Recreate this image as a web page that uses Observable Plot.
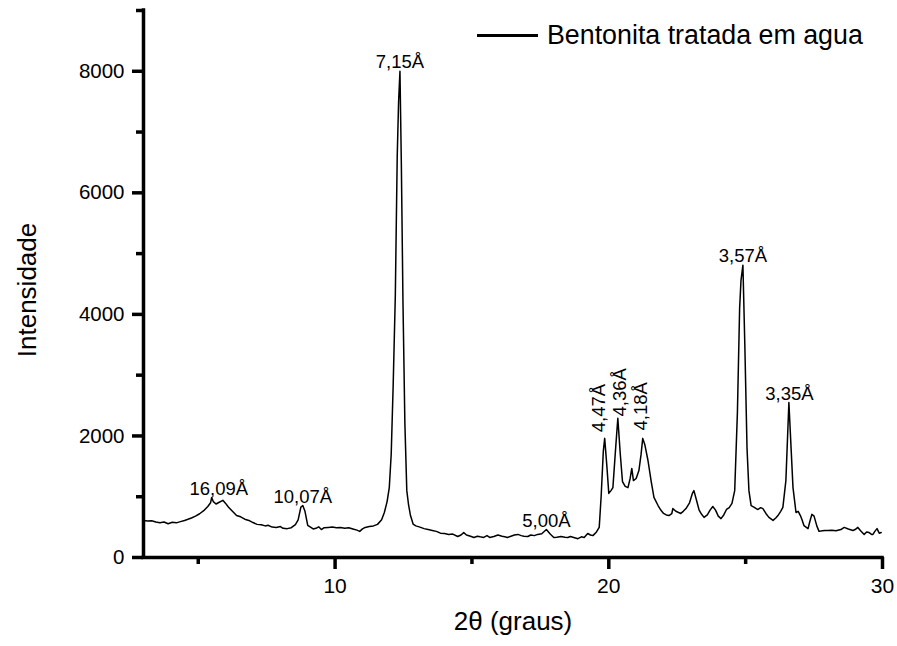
<!DOCTYPE html>
<html><head><meta charset="utf-8">
<script src="https://cdn.jsdelivr.net/npm/d3@7"></script>
<script src="https://cdn.jsdelivr.net/npm/@observablehq/plot@0.6"></script>
<style>
body{margin:0;background:#fff;}
#wrap{position:relative;width:897px;height:646px;font-family:"Liberation Sans",Arial,sans-serif;}
#legend{position:absolute;left:477px;top:20px;display:flex;align-items:center;font-size:26.8px;color:#000;white-space:nowrap;line-height:30px;}
#legend .sw{display:inline-block;width:61px;height:0;border-top:3px solid #000;margin-right:9px;}
</style></head>
<body><div id="wrap"><div id="legend"><span class="sw"></span><span>Bentonita tratada em agua</span></div></div>
<script>
const theta = [3.00,3.15,3.3,3.45,3.6,3.75,3.9,4.05,4.2,4.35,4.5,4.6,4.75,4.9,5.05,5.2,5.35,5.45,5.49,5.55,5.65,5.75,5.9,6.0,6.1,6.25,6.4,6.55,6.7,6.85,7.0,7.15,7.3,7.45,7.55,7.7,7.85,8.0,8.1,8.25,8.4,8.55,8.65,8.75,8.82,8.9,9.0,9.1,9.2,9.3,9.4,9.5,9.6,9.75,9.9,10.05,10.2,10.35,10.5,10.65,10.8,10.9,11.0,11.1,11.25,11.4,11.55,11.7,11.8,11.9,11.98,12.05,12.12,12.2,12.27,12.32,12.37,12.42,12.48,12.55,12.62,12.68,12.75,12.85,12.95,13.1,13.25,13.4,13.55,13.7,13.85,14.0,14.15,14.3,14.48,14.6,14.7,14.8,14.95,15.07,15.2,15.3,15.43,15.55,15.65,15.8,15.95,16.1,16.2,16.3,16.45,16.55,16.68,16.8,16.9,17.04,17.15,17.28,17.4,17.55,17.72,17.85,17.99,18.1,18.25,18.4,18.5,18.6,18.75,18.87,19.0,19.1,19.23,19.33,19.42,19.55,19.65,19.72,19.8,19.85,19.93,20.0,20.08,20.15,20.25,20.33,20.42,20.5,20.6,20.7,20.78,20.84,20.9,21.0,21.1,21.18,21.24,21.32,21.43,21.55,21.65,21.8,21.9,22.0,22.1,22.2,22.3,22.34,22.45,22.55,22.63,22.72,22.82,22.95,23.05,23.11,23.2,23.3,23.37,23.48,23.6,23.7,23.8,23.9,24.0,24.1,24.2,24.3,24.4,24.5,24.6,24.7,24.78,24.83,24.9,24.97,25.05,25.12,25.2,25.3,25.4,25.45,25.55,25.63,25.74,25.85,26.0,26.1,26.18,26.28,26.36,26.47,26.58,26.66,26.73,26.84,26.92,27.0,27.06,27.13,27.28,27.35,27.42,27.5,27.6,27.68,27.8,27.9,28.0,28.15,28.3,28.48,28.6,28.75,28.92,29.0,29.1,29.2,29.33,29.42,29.51,29.6,29.65,29.72,29.8,29.88,29.95];
const intensity = [610,600,605,585,570,585,555,580,570,590,610,625,650,680,720,770,840,900,985,920,880,905,940,890,830,760,690,670,630,610,575,545,540,520,530,500,495,510,480,475,490,540,620,830,855,760,530,500,470,480,505,460,490,495,500,490,495,480,490,470,450,430,470,495,510,520,545,620,740,920,1150,1700,2800,4300,6600,7500,8000,6500,4200,2200,1100,880,700,550,520,500,475,460,445,430,400,395,380,385,345,370,410,370,350,330,350,340,330,360,330,345,370,350,340,330,355,370,380,360,350,345,370,360,380,390,460,390,330,335,345,335,330,345,325,310,340,330,395,370,360,420,495,1000,1750,1960,1500,1055,1100,1150,1800,2290,1700,1250,1170,1150,1300,1465,1265,1300,1430,1700,1960,1850,1600,1250,990,855,780,725,700,690,720,805,760,740,725,760,805,900,1050,1100,950,780,725,660,700,780,840,780,680,640,700,790,820,890,1100,2400,4100,4560,4810,3500,1800,1100,855,830,800,790,820,805,725,660,610,650,690,760,825,1265,2550,1800,1150,740,760,690,620,525,475,600,710,680,520,430,440,445,445,450,440,460,495,470,445,460,495,440,380,420,410,380,380,430,475,400,410];

// horizontal peak labels (placed at the peak tops)
const peakTheta = [5.75, 8.82, 12.37, 17.72, 24.9, 26.6];
const peakIntensity = [985, 855, 8000, 460, 4810, 2550];
const peakLabel = ["16,09Å", "10,07Å", "7,15Å", "5,00Å", "3,57Å", "3,35Å"];

// vertical peak labels (start point of each rotated label)
const vLabelTheta = [19.66, 20.42, 21.18];
const vLabelIntensity = [2060, 2320, 2090];
const vPeakLabel = ["4,47Å", "4,36Å", "4,18Å"];

const xMajorTicks = [10, 20, 30];
const xMinorTicks = [5, 15, 25];
const yMajorTicks = [0, 2000, 4000, 6000, 8000];
const yMinorTicks = [1000, 3000, 5000, 7000, 9000];

const xTitle = "2θ (graus)";
const yTitle = "Intensidade";

const series = theta.map((t, i) => ({theta: t, intensity: intensity[i]}));
const peaks = peakTheta.map((t, i) => ({theta: t, intensity: peakIntensity[i], label: peakLabel[i]}));
const vPeaks = vLabelTheta.map((t, i) => ({theta: t, intensity: vLabelIntensity[i], label: vPeakLabel[i]}));

const font = '"Liberation Sans", Arial, sans-serif';
const AW = 3.5;

const chart = Plot.plot({
  width: 897,
  height: 646,
  marginLeft: 143,
  marginRight: 15,
  marginTop: 10,
  marginBottom: 89,
  style: {fontFamily: font, background: "white", color: "black", overflow: "visible"},
  x: {domain: [3, 30]},
  y: {domain: [0, 9000]},
  marks: [
    Plot.axisX(xMajorTicks, {tickSize: 12, tickPadding: 9, strokeWidth: AW, fontSize: 21, tickFormat: d3.format("d"), label: null}),
    Plot.axisX(xMinorTicks, {tickSize: 7, strokeWidth: AW, tickFormat: () => "", label: null}),
    Plot.axisY(yMajorTicks, {tickSize: 11, tickPadding: 8, strokeWidth: AW, fontSize: 20.5, tickFormat: d3.format("d"), label: null}),
    Plot.axisY(yMinorTicks, {tickSize: 7, strokeWidth: AW, tickFormat: () => "", label: null}),
    Plot.ruleY([0], {strokeWidth: AW, strokeLinecap: "square"}),
    Plot.ruleX([3], {strokeWidth: AW, strokeLinecap: "square"}),
    Plot.line(series, {x: "theta", y: "intensity", stroke: "black", strokeWidth: 1.5, strokeLinejoin: "round"}),
    Plot.text(peaks, {x: "theta", y: "intensity", text: "label", lineAnchor: "bottom", dy: -3, fontSize: 18.5, fill: "black"}),
    Plot.text(vPeaks, {x: "theta", y: "intensity", text: "label", rotate: -90, textAnchor: "start", lineAnchor: "middle", fontSize: 18.5, fill: "black"}),
    Plot.text([xTitle], {text: d => d, frameAnchor: "bottom", textAnchor: "middle", lineAnchor: "bottom", dy: 72, fontSize: 26, fill: "black"}),
    Plot.text([yTitle], {text: d => d, frameAnchor: "left", textAnchor: "middle", lineAnchor: "middle", rotate: -90, dx: -116, dy: 6, fontSize: 26, fill: "black"})
  ]
});
document.getElementById("wrap").prepend(chart);
</script>
</body></html>
